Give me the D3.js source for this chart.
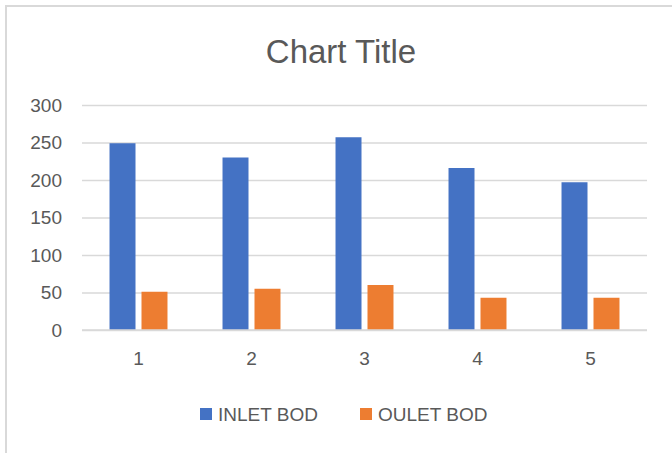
<!DOCTYPE html>
<html>
<head>
<meta charset="utf-8">
<script src="https://cdn.jsdelivr.net/npm/d3@7"></script>
<style>
  html, body { margin: 0; padding: 0; background: #fff; }
  svg { display: block; }
  text { font-family: "Liberation Sans", Arial, sans-serif; fill: #595959; }
</style>
</head>
<body>
<svg id="chart" width="672" height="453"></svg>
<script>
// Chart data
const categories = ["1", "2", "3", "4", "5"];
const seriesNames = ["INLET BOD", "OULET BOD"];
const inletBOD = [249, 230, 257, 216, 197];
const outletBOD = [51, 55, 60, 43, 43];
const yTicks = [0, 50, 100, 150, 200, 250, 300];
const seriesColors = ["#4472C4", "#ED7D31"];
const titleText = "Chart Title";

const svg = d3.select("#chart");

// Chart frame (top and left edges)
svg.append("path")
  .attr("d", "M6,453 L6,6 L672,6")
  .attr("fill", "none")
  .attr("stroke", "#d9d9d9")
  .attr("stroke-width", 2);

const plot = { left: 82, right: 647, top: 105, bottom: 330 };

const x0 = d3.scaleBand()
  .domain(categories)
  .range([plot.left, plot.right])
  .paddingInner(0.487)
  .paddingOuter(0.2435);

const x1 = d3.scaleBand()
  .domain(seriesNames)
  .range([0, x0.bandwidth()])
  .paddingInner(0.1875);

const y = d3.scaleLinear()
  .domain([0, 300])
  .range([plot.bottom, plot.top]);

const color = d3.scaleOrdinal().domain(seriesNames).range(seriesColors);

// Horizontal gridlines and y labels
const yAxis = d3.axisLeft(y)
  .tickValues(yTicks)
  .tickSize(-(plot.right - plot.left))
  .tickPadding(20);

const yg = svg.append("g")
  .attr("transform", `translate(${plot.left},0)`)
  .call(yAxis);
yg.select(".domain").remove();
yg.selectAll(".tick line")
  .attr("stroke", "#d9d9d9")
  .attr("stroke-width", 1.6);
yg.selectAll(".tick text")
  .attr("fill", "#595959")
  .style("font-size", "19px")
  .style("font-family", "'Liberation Sans', Arial, sans-serif");

// Bars
const rows = categories.map((c, i) => ({
  cat: c,
  values: [
    { key: seriesNames[0], value: inletBOD[i] },
    { key: seriesNames[1], value: outletBOD[i] }
  ]
}));

svg.append("g")
  .selectAll("g")
  .data(rows)
  .join("g")
  .attr("transform", d => `translate(${x0(d.cat)},0)`)
  .selectAll("rect")
  .data(d => d.values)
  .join("rect")
  .attr("x", d => x1(d.key))
  .attr("y", d => y(d.value))
  .attr("width", x1.bandwidth())
  .attr("height", d => y(0) - y(d.value))
  .attr("fill", d => color(d.key));

// Category axis
const xAxis = d3.axisBottom(x0).tickSize(0).tickPadding(22);
const xg = svg.append("g")
  .attr("transform", `translate(0,${plot.bottom})`)
  .call(xAxis);
xg.select(".domain")
  .attr("stroke", "#d9d9d9")
  .attr("stroke-width", 1.6)
  .attr("d", `M${plot.left},0H${plot.right}`);
xg.selectAll(".tick text")
  .attr("fill", "#595959")
  .style("font-size", "19px")
  .style("font-family", "'Liberation Sans', Arial, sans-serif");

// Title
svg.append("text")
  .attr("x", 341)
  .attr("y", 63)
  .attr("text-anchor", "middle")
  .style("font-size", "33px")
  .text(titleText);

// Legend
const legendItems = [
  { name: seriesNames[0], x: 200 },
  { name: seriesNames[1], x: 360 }
];
const lg = svg.append("g").selectAll("g")
  .data(legendItems)
  .join("g")
  .attr("transform", d => `translate(${d.x},408)`);
lg.append("rect")
  .attr("width", 12)
  .attr("height", 12)
  .attr("fill", d => color(d.name));
lg.append("text")
  .attr("x", 18)
  .attr("y", 6)
  .attr("dy", "0.35em")
  .style("font-size", "19px")
  .text(d => d.name);
</script>
</body>
</html>
